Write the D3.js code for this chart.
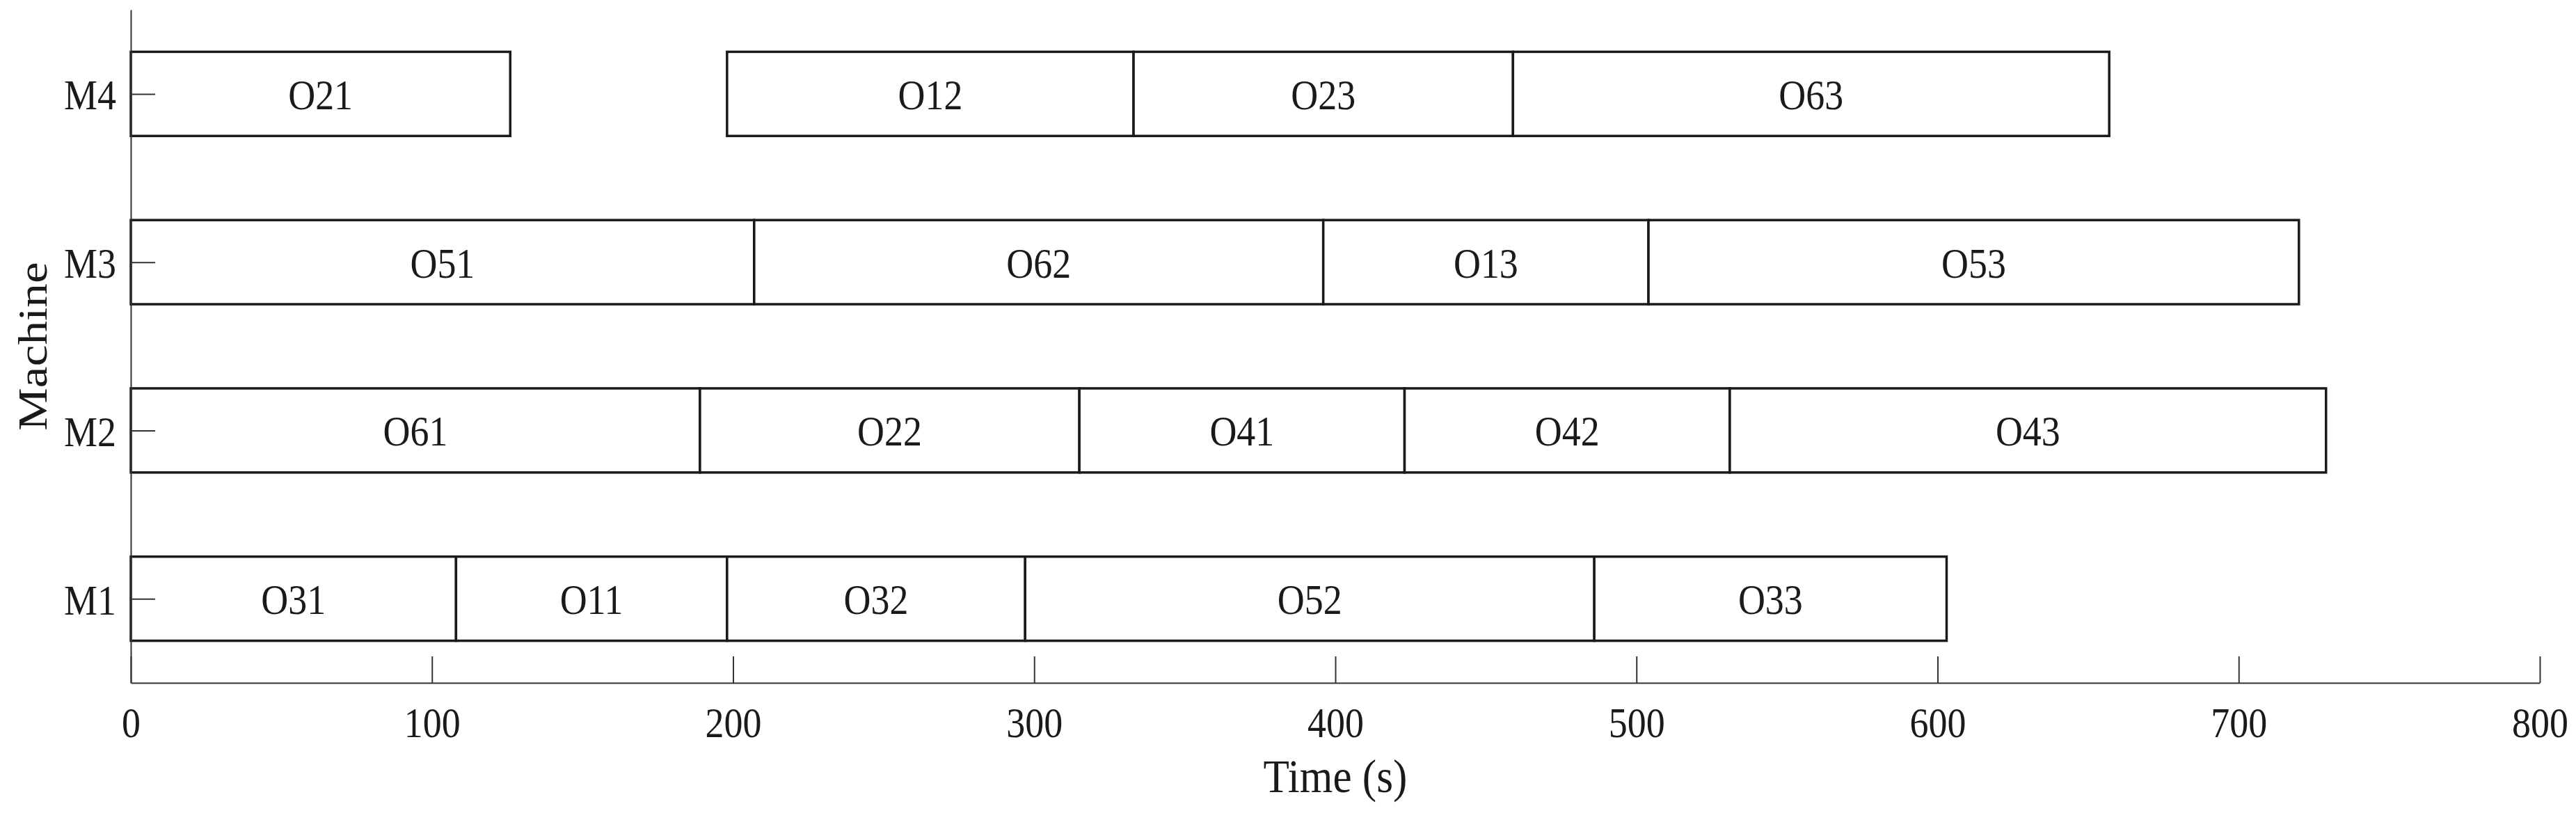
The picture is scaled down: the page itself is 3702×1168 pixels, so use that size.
<!DOCTYPE html>
<html>
<head>
<meta charset="utf-8">
<script src="https://cdn.jsdelivr.net/npm/d3@7"></script>
<style>
  html, body { margin: 0; padding: 0; background: #ffffff; }
  svg { display: block; }
  text { font-family: "Liberation Serif", "Times New Roman", serif; fill: #1a1a1a; }
</style>
</head>
<body>
<svg id="chart" width="3702" height="1168"></svg>
<script>
// ---- data ----
const machines = ["M1", "M2", "M3", "M4"];
const xTicks = [0, 100, 200, 300, 400, 500, 600, 700, 800];
const opMachine = ["M1","M1","M1","M1","M1",
                   "M2","M2","M2","M2","M2",
                   "M3","M3","M3","M3",
                   "M4","M4","M4","M4"];
const opName  = ["O31","O11","O32","O52","O33",
                 "O61","O22","O41","O42","O43",
                 "O51","O62","O13","O53",
                 "O21","O12","O23","O63"];
const opStart = [0, 108, 198, 297, 486,
                 0, 189, 315, 423, 531,
                 0, 207, 396, 504,
                 0, 198, 333, 459];
const opEnd   = [108, 198, 297, 486, 603,
                 189, 315, 423, 531, 729,
                 207, 396, 504, 720,
                 126, 333, 459, 657];

(function () {
// ---- layout ----
const pLeft = 188, pRight = 3650, pTop = 14, pBottom = 981;
const sx = 0.87;           // horizontal squeeze of the original glyphs
const tickFont = 62, labelFont = 68;

const svg = d3.select("#chart");
const x = d3.scaleLinear().domain([0, 800]).range([pLeft, pRight]);
const y = d3.scaleLinear().domain([0.5, 4.5]).range([pBottom, pTop]);
const mIndex = m => machines.indexOf(m) + 1;

const ops = opName.map((n, i) => ({name: n, m: opMachine[i], s: opStart[i], e: opEnd[i]}));

// bars
const g = svg.append("g");
g.selectAll("rect").data(ops).join("rect")
  .attr("x", d => x(d.s))
  .attr("y", d => y(mIndex(d.m) + 0.25))
  .attr("width", d => x(d.e) - x(d.s))
  .attr("height", d => y(mIndex(d.m) - 0.25) - y(mIndex(d.m) + 0.25))
  .attr("fill", "#ffffff")
  .attr("stroke", "#1a1a1a")
  .attr("stroke-width", 3.5);

// bar labels
g.selectAll("text.op").data(ops).join("text")
  .attr("class", "op")
  .attr("text-anchor", "middle")
  .attr("font-size", tickFont)
  .attr("transform", d => `translate(${(x(d.s) + x(d.e)) / 2},${y(mIndex(d.m)) + 22}) scale(${sx},1)`)
  .text(d => d.name);

// x axis
const xAxis = svg.append("g")
  .attr("transform", `translate(0,${pBottom})`)
  .call(d3.axisBottom(x).tickValues(xTicks).tickSize(-38).tickSizeOuter(0));
xAxis.select(".domain").attr("stroke", "#333").attr("stroke-width", 2);
xAxis.selectAll(".tick line").attr("stroke", "#333").attr("stroke-width", 2);
xAxis.selectAll(".tick text")
  .attr("y", 78).attr("dy", null)
  .attr("font-size", tickFont)
  .attr("font-family", '"Liberation Serif", "Times New Roman", serif')
  .attr("fill", "#1a1a1a")
  .attr("transform", `scale(${sx},1)`);

// y axis
const yAxis = svg.append("g")
  .attr("transform", `translate(${pLeft},0)`)
  .call(d3.axisLeft(y).tickValues([1, 2, 3, 4]).tickFormat(v => machines[v - 1]).tickSize(-35).tickSizeOuter(0));
yAxis.select(".domain").attr("stroke", "#333").attr("stroke-width", 2);
yAxis.selectAll(".tick line").attr("stroke", "#333").attr("stroke-width", 2);
yAxis.selectAll(".tick text")
  .attr("x", -21 / sx).attr("dy", null).attr("y", 22)
  .attr("font-size", tickFont)
  .attr("font-family", '"Liberation Serif", "Times New Roman", serif')
  .attr("fill", "#1a1a1a")
  .attr("text-anchor", "end")
  .attr("transform", `scale(${sx},1)`);

// axis titles
svg.append("text")
  .attr("text-anchor", "middle")
  .attr("font-size", labelFont)
  .attr("transform", `translate(${(pLeft + pRight) / 2},1138) scale(0.9,1)`)
  .text("Time (s)");

svg.append("text")
  .attr("text-anchor", "middle")
  .attr("font-size", labelFont)
  .attr("transform", `translate(67,${(pTop + pBottom) / 2}) rotate(-90) scale(1.02,0.88)`)
  .text("Machine");
})();
</script>
</body>
</html>
